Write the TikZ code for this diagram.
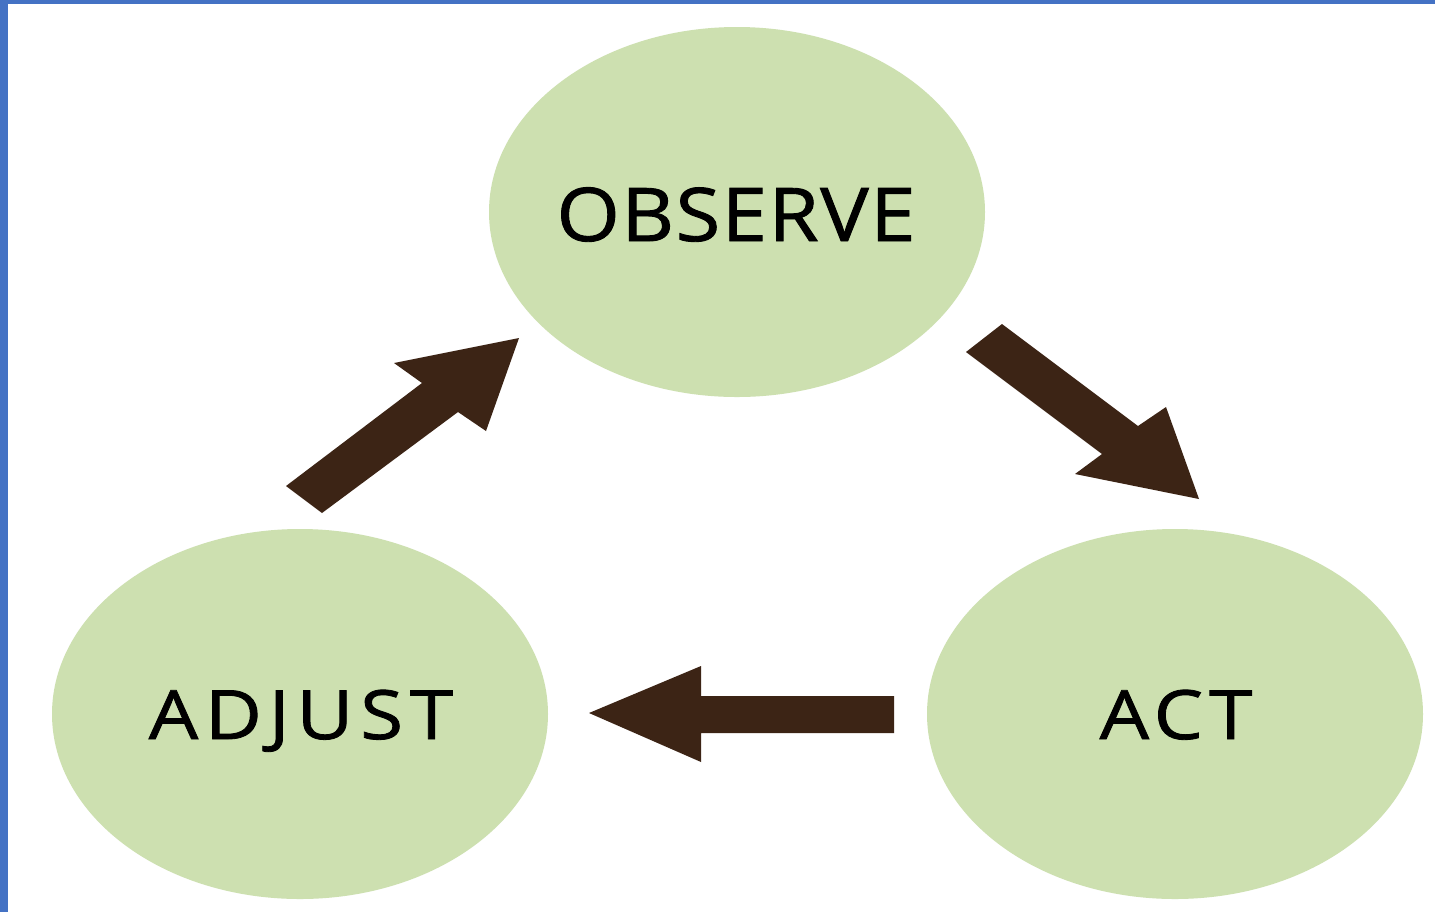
\documentclass[tikz,border=0pt]{standalone}
\usepackage{fontspec}
\setmainfont{Open Sans}[FakeBold=1.2]
\usetikzlibrary{shapes.geometric}
\definecolor{leaf}{HTML}{CDE0B0}
\definecolor{bark}{HTML}{3C2415}
\definecolor{frameblue}{HTML}{4472C4}
\tikzset{
  bubble/.style={ellipse, fill=leaf, draw=none, minimum width=248pt, minimum height=185pt, inner sep=0pt},
  blockarrow/.style={fill=bark, draw=none},
  label text/.style={anchor=base, inner sep=0pt},
}
\begin{document}
\begin{tikzpicture}[x=0.5pt,y=-0.5pt]
\useasboundingbox (0,0) rectangle (1435,912);
\fill[white] (0,0) rectangle (1435,912);
\fill[frameblue] (0,0) rectangle (8,912);
\fill[frameblue] (0,0) rectangle (1435,4);
\node[bubble] (observe) at (737,212) {};
\node[bubble] (adjust) at (300,714) {};
\node[bubble] (act) at (1175,714) {};
\node[label text, font=\fontsize{37pt}{40pt}\selectfont\addfontfeatures{FakeStretch=1.1,LetterSpace=2}] (tobs) at (736,241) {OBSERVE};
\node[label text, font=\fontsize{34pt}{37pt}\selectfont\addfontfeatures{FakeStretch=1.15,LetterSpace=10}] (tadj) at (301,739) {ADJUST};
\node[label text, font=\fontsize{34pt}{37pt}\selectfont\addfontfeatures{FakeStretch=1.15,LetterSpace=9}] (tact) at (1176,739) {ACT};
% adjust -> observe
\fill[blockarrow] (286,486) -- (322,513) -- (458,412) -- (486,431) -- (519,338) -- (394,363) -- (422,383) -- cycle;
% observe -> act
\fill[blockarrow] (1002,324) -- (966,352) -- (1102,454) -- (1075,474) -- (1199,499) -- (1166,407) -- (1138,426) -- cycle;
% act -> adjust
\fill[blockarrow] (894,696) -- (894,733) -- (701,733) -- (701,762) -- (589,713) -- (701,666) -- (701,696) -- cycle;
\end{tikzpicture}
\end{document}
